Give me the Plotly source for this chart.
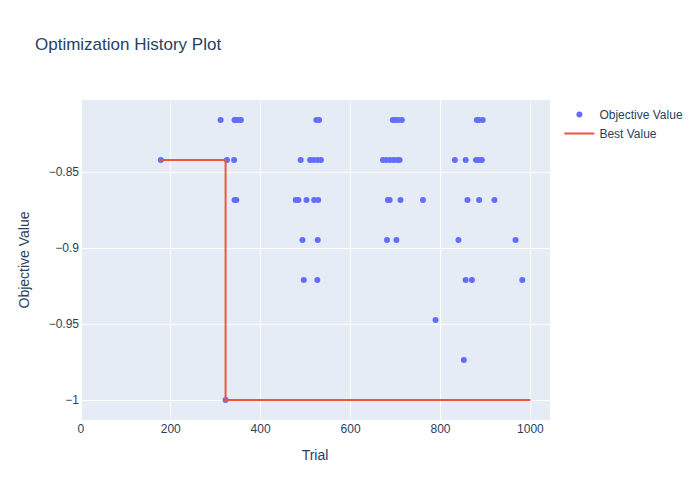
import plotly.graph_objects as go

N = 38.0
# Objective values (negative accuracy on 38 samples) per trial
trials_r31 = [311, 342, 346, 350, 356, 524, 530, 694, 700, 706, 714, 881, 886, 894]
trials_r32 = [178, 325, 341, 489, 510, 518, 526, 534, 672, 680, 688, 696, 704, 709, 832, 856, 879, 885, 892]
trials_r33 = [342, 346, 478, 484, 502, 519, 528, 683, 687, 711, 761, 860, 886, 920]
trials_r34 = [493, 527, 681, 702, 840, 967]
trials_r35 = [496, 526, 856, 870, 982]
trials_r36 = [789]
trials_r37 = [852]
trials_r38 = [322]

groups = [(31, trials_r31), (32, trials_r32), (33, trials_r33), (34, trials_r34),
          (35, trials_r35), (36, trials_r36), (37, trials_r37), (38, trials_r38)]

obj_x = []
obj_y = []
for k, ts in groups:
    for t in ts:
        obj_x.append(t)
        obj_y.append(-k / N)
order = sorted(range(len(obj_x)), key=lambda i: obj_x[i])
obj_x = [obj_x[i] for i in order]
obj_y = [obj_y[i] for i in order]

best_x = [178, 322, 1000]
best_y = [-32 / N, -1.0, -1.0]

fig = go.Figure()
fig.add_trace(go.Scatter(x=obj_x, y=obj_y, mode="markers", name="Objective Value",
                         marker=dict(color="#636efa", size=6)))
fig.add_trace(go.Scatter(x=best_x, y=best_y, mode="lines", name="Best Value",
                         line=dict(color="#EF553B", shape="hv")))
fig.update_layout(
    template="plotly",
    width=700, height=500,
    font=dict(family="Liberation Sans, Arial, sans-serif"),
    title=dict(text="Optimization History Plot"),
    xaxis=dict(title=dict(text="Trial"), range=[-1.8, 1043.6]),
    yaxis=dict(title=dict(text="Objective Value"), range=[-1.01316, -0.80263]),
)
fig.write_html("out.html")
